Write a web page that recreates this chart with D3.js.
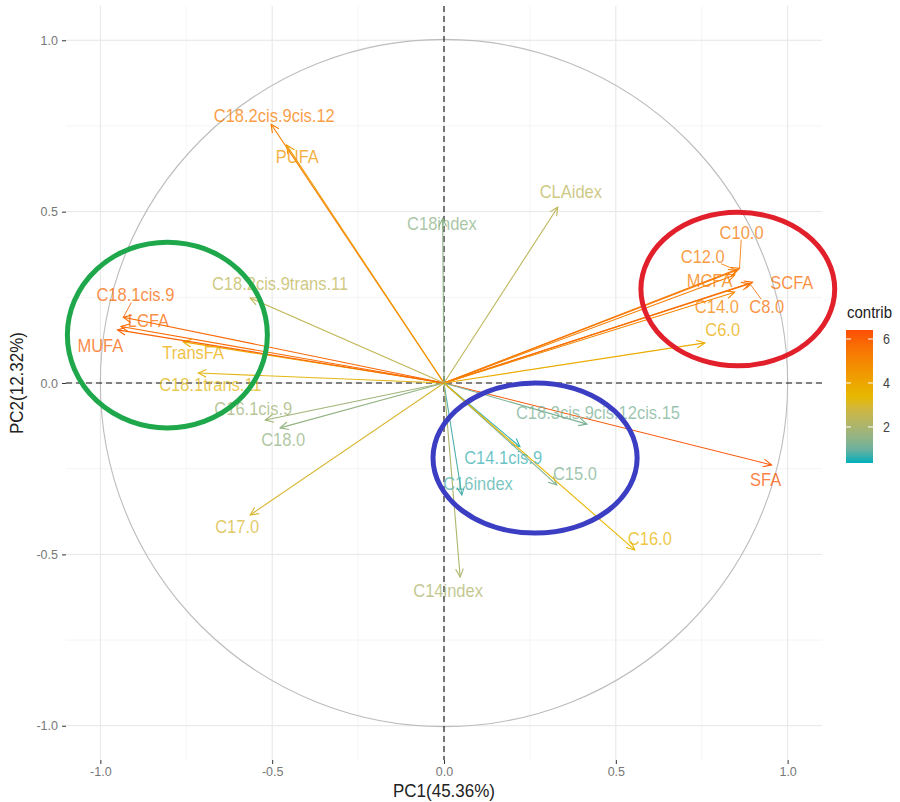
<!DOCTYPE html>
<html><head><meta charset="utf-8">
<script src="https://cdn.jsdelivr.net/npm/d3@7"></script>
<style>body{margin:0;background:#fff}svg{display:block;font-family:"Liberation Sans",Arial,sans-serif}</style>
</head><body><svg id="chart" width="900" height="802"></svg>
<script>
// ---- data (PCA variable coordinates, Dim1/Dim2) ----
const varNames = ["C18.2cis.9cis.12","PUFA","C18index","CLAidex","C10.0","C12.0","MCFA","SCFA","C8.0","C14.0","C6.0","SFA",
  "C18.3cis.9cis.12cis.15","C14.1cis.9","C15.0","C16index","C16.0","C14index","C17.0","C18.0","C16.1cis.9",
  "C18.1trans.11","TransFA","MUFA","LCFA","C18.1cis.9","C18.2cis.9trans.11"];
const pc1 = [-0.503,-0.458,-0.004,0.331,0.860,0.852,0.846,0.898,0.890,0.846,0.759,0.953,
  0.416,0.221,0.328,0.052,0.555,0.047,-0.564,-0.477,-0.520,
  -0.715,-0.759,-0.950,-0.940,-0.933,-0.564];
const pc2 = [0.755,0.694,0.480,0.513,0.335,0.329,0.315,0.294,0.290,0.265,0.117,-0.239,
  -0.120,-0.186,-0.297,-0.327,-0.487,-0.566,-0.385,-0.131,-0.108,
  0.029,0.120,0.155,0.165,0.192,0.248];
const contrib = [5.28,4.44,1.48,2.39,5.47,5.35,5.23,5.73,5.62,5.05,3.79,6.20,
  1.20,0.54,1.26,0.70,3.50,2.07,3.00,1.57,1.81,
  3.29,3.79,5.95,5.74,5.82,2.44];
// repelled label positions (data units)
const labelPC1 = [-0.494,-0.427,-0.006,0.369,0.866,0.753,0.773,1.012,0.939,0.794,0.811,0.936,
  0.448,0.172,0.381,0.099,0.599,0.012,-0.602,-0.468,-0.555,
  -0.680,-0.730,-1.000,-0.860,-0.898,-0.477];
const labelPC2 = [0.781,0.659,0.464,0.557,0.440,0.370,0.300,0.294,0.222,0.224,0.155,-0.283,
  -0.087,-0.219,-0.265,-0.294,-0.455,-0.606,-0.420,-0.166,-0.076,
  -0.006,0.090,0.108,0.181,0.257,0.289];
const segmentVars = ["C10.0","C12.0","C8.0","C18.1cis.9"];
const axisTicks = [-1.0,-0.5,0.0,0.5,1.0];
const minorTicks = [-0.75,-0.25,0.25,0.75];
const legendTicks = [2,4,6];
const contribRange = [0.36,6.41];
const gradientColors = ["#00AFBB","#E7B800","#FC4E07"];
const xTitle = "PC1(45.36%)", yTitle = "PC2(12.32%)", legendTitle = "contrib";
// hand-drawn highlight ellipses (data units)
const ellipseCX = [-0.805,0.855,0.265];
const ellipseCY = [0.140,0.274,-0.219];
const ellipseRX = [0.291,0.282,0.297];
const ellipseRY = [0.271,0.224,0.219];
const ellipseColors = ["#1ea84b","#e2202b","#3b3dc2"];

// ---- drawing ----
const svg = d3.select("#chart");
const x = d3.scaleLinear().domain([-1.1,1.1]).range([66,822]);
const y = d3.scaleLinear().domain([-1.1,1.1]).range([760,6]);
const color = d3.scaleLinear()
  .domain([contribRange[0],(contribRange[0]+contribRange[1])/2,contribRange[1]])
  .range(gradientColors).interpolate(d3.interpolateLab);
const stretch = 1.13;

// grid
const grid = svg.append("g");
minorTicks.forEach(t=>{
  grid.append("line").attr("x1",x(t)).attr("x2",x(t)).attr("y1",y(-1.1)).attr("y2",y(1.1)).attr("stroke","#efefef").attr("stroke-width",0.6);
  grid.append("line").attr("y1",y(t)).attr("y2",y(t)).attr("x1",x(-1.1)).attr("x2",x(1.1)).attr("stroke","#efefef").attr("stroke-width",0.6);
});
axisTicks.forEach(t=>{
  grid.append("line").attr("x1",x(t)).attr("x2",x(t)).attr("y1",y(-1.1)).attr("y2",y(1.1)).attr("stroke","#e6e6e6").attr("stroke-width",1);
  grid.append("line").attr("y1",y(t)).attr("y2",y(t)).attr("x1",x(-1.1)).attr("x2",x(1.1)).attr("stroke","#e6e6e6").attr("stroke-width",1);
});

// axes
const fmt = v => d3.format(".1f")(v).replace("\u2212","-");
const ax = svg.append("g").attr("transform",`translate(0,${y(-1.1)})`)
  .call(d3.axisBottom(x).tickValues(axisTicks).tickFormat(fmt).tickSize(4).tickPadding(3));
const ay = svg.append("g").attr("transform",`translate(${x(-1.1)},0)`)
  .call(d3.axisLeft(y).tickValues(axisTicks).tickFormat(fmt).tickSize(4).tickPadding(4));
[ax,ay].forEach(a=>{
  a.select(".domain").remove();
  a.selectAll("line").attr("stroke","#333");
  a.selectAll("text").attr("fill","#777").attr("font-size",12.5).attr("font-family","Liberation Sans, Arial, sans-serif");
});
svg.append("text").attr("transform",`translate(${x(0)},797) scale(1,${stretch})`).attr("text-anchor","middle").attr("font-size",17).attr("fill","#222").text(xTitle);
svg.append("text").attr("transform",`translate(23,${y(0)}) rotate(-90) scale(1,${stretch})`).attr("text-anchor","middle").attr("font-size",17).attr("fill","#222").text(yTitle);

// correlation circle
svg.append("circle").attr("cx",x(0)).attr("cy",y(0)).attr("r",x(1)-x(0)).attr("fill","none").attr("stroke","#bdbdbd").attr("stroke-width",1.1);

// dashed zero lines
svg.append("line").attr("x1",x(0)).attr("x2",x(0)).attr("y1",y(1.1)).attr("y2",y(-1.1)).attr("stroke","#111").attr("stroke-dasharray","6,4").attr("stroke-width",1.1);
svg.append("line").attr("y1",y(0)).attr("y2",y(0)).attr("x1",x(-1.1)).attr("x2",x(1.1)).attr("stroke","#111").attr("stroke-dasharray","6,4").attr("stroke-width",1.1);

// arrows
const data = varNames.map((n,i)=>({name:n,px:pc1[i],py:pc2[i],c:contrib[i],lx:labelPC1[i],ly:labelPC2[i]}));
const arrows = svg.append("g");
const headLen = 9, headAng = Math.PI/7;
data.forEach(d=>{
  const sx=x(0), sy=y(0), tx=x(d.px), ty=y(d.py);
  const col = color(d.c);
  const th = Math.atan2(ty-sy, tx-sx);
  arrows.append("line").attr("x1",sx).attr("y1",sy).attr("x2",tx).attr("y2",ty).attr("stroke",col).attr("stroke-width",1.1);
  const p = d3.path();
  p.moveTo(tx-headLen*Math.cos(th-headAng), ty-headLen*Math.sin(th-headAng));
  p.lineTo(tx,ty);
  p.lineTo(tx-headLen*Math.cos(th+headAng), ty-headLen*Math.sin(th+headAng));
  arrows.append("path").attr("d",p.toString()).attr("fill","none").attr("stroke",col).attr("stroke-width",1.1);
});

// labels
const labels = svg.append("g");
data.forEach(d=>{
  const X=x(d.lx), Y=y(d.ly);
  const t = labels.append("text").attr("transform",`translate(${X},${Y}) scale(1,${stretch})`).attr("text-anchor","middle")
    .attr("dominant-baseline","central").attr("font-size",16.5).attr("fill",color(d.c)).attr("fill-opacity",0.75).text(d.name);
  if(segmentVars.includes(d.name)){
    const b = t.node().getBBox();
    const cx=X+b.x+b.width/2, cy=Y+(b.y+b.height/2)*stretch, hw=b.width/2, hh=b.height*stretch/2;
    const tx=x(d.px), ty=y(d.py);
    const dx=tx-cx, dy=ty-cy;
    const s = Math.min((hw+1)/Math.abs(dx||1e-6),(hh-3)/Math.abs(dy||1e-6));
    if(s<1) labels.append("line").attr("x1",cx+dx*s).attr("y1",cy+dy*s).attr("x2",tx).attr("y2",ty).attr("stroke",color(d.c)).attr("stroke-opacity",0.85).attr("stroke-width",1);
  }
});

// highlight ellipses
ellipseCX.forEach((cx,i)=>{
  svg.append("ellipse").attr("cx",x(cx)).attr("cy",y(ellipseCY[i]))
    .attr("rx",x(ellipseRX[i])-x(0)).attr("ry",y(0)-y(ellipseRY[i]))
    .attr("fill","none").attr("stroke",ellipseColors[i]).attr("stroke-width",5);
});

// legend
const lg = svg.append("g");
const ly = d3.scaleLinear().domain(contribRange).range([463,330]);
const defs = svg.append("defs");
const grad = defs.append("linearGradient").attr("id","cg").attr("x1",0).attr("x2",0).attr("y1",1).attr("y2",0);
d3.range(0,1.0001,0.1).forEach(f=>{
  const v = contribRange[0]+f*(contribRange[1]-contribRange[0]);
  grad.append("stop").attr("offset",f).attr("stop-color",color(v));
});
const bx=846, bw=27;
lg.append("text").attr("transform",`translate(${bx+1},318) scale(1,${stretch})`).attr("font-size",15).attr("fill","#222").text(legendTitle);
lg.append("rect").attr("x",bx).attr("y",ly(contribRange[1])).attr("width",bw).attr("height",ly(contribRange[0])-ly(contribRange[1])).attr("fill","url(#cg)");
legendTicks.forEach(t=>{
  lg.append("line").attr("x1",bx).attr("x2",bx+5).attr("y1",ly(t)).attr("y2",ly(t)).attr("stroke","#fff").attr("stroke-width",1);
  lg.append("line").attr("x1",bx+bw-5).attr("x2",bx+bw).attr("y1",ly(t)).attr("y2",ly(t)).attr("stroke","#fff").attr("stroke-width",1);
  lg.append("text").attr("transform",`translate(${bx+bw+10},${ly(t)}) scale(1,${stretch})`).attr("dominant-baseline","central").attr("font-size",12.5).attr("fill","#444").text(t);
});
</script></body></html>
